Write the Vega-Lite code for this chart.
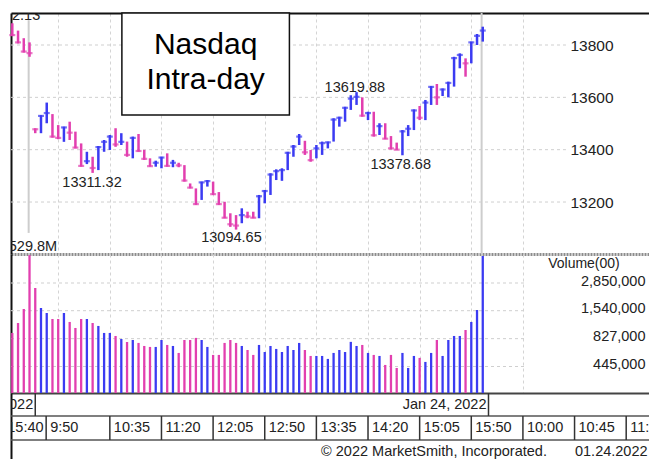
{
  "$schema": "https://vega.github.io/schema/vega-lite/v6.json",
  "padding": {"left": 9, "top": 12, "right": 0, "bottom": 0},
  "background": "white",
  "spacing": 0,
  "bounds": "flush",
  "config": {
    "view": {"stroke": null},
    "font": "Liberation Sans",
    "axis": {"labelFont": "Liberation Sans", "titleFont": "Liberation Sans"},
    "text": {"font": "Liberation Sans"}
  },
  "datasets": {
    "bars": [
      {"i":1,"h":13883,"l":13834,"c":13838,"v":939000,"d":"down"},
      {"i":2,"h":13855,"l":13806,"c":13810,"v":1172000,"d":"down"},
      {"i":3,"h":13826,"l":13771,"c":13775,"v":1600000,"d":"down"},
      {"i":4,"h":13810,"l":13755,"c":13768.92,"v":5298000,"d":"down"},
      {"i":5,"h":13482,"l":13463,"c":13478,"v":2551000,"d":"down"},
      {"i":6,"h":13532,"l":13463,"c":13529,"v":1636000,"d":"up"},
      {"i":7,"h":13580,"l":13501,"c":13540,"v":1464000,"d":"up"},
      {"i":8,"h":13536,"l":13446,"c":13450,"v":1281000,"d":"down"},
      {"i":9,"h":13494,"l":13440,"c":13445,"v":1281000,"d":"down"},
      {"i":10,"h":13488,"l":13430,"c":13485,"v":1464000,"d":"up"},
      {"i":11,"h":13507,"l":13437,"c":13465,"v":1199000,"d":"down"},
      {"i":12,"h":13469,"l":13405,"c":13408,"v":1049000,"d":"down"},
      {"i":13,"h":13424,"l":13335,"c":13338,"v":1281000,"d":"down"},
      {"i":14,"h":13392,"l":13345,"c":13356,"v":1281000,"d":"up"},
      {"i":15,"h":13373,"l":13311.32,"c":13330,"v":1172000,"d":"down"},
      {"i":16,"h":13414,"l":13322,"c":13410,"v":1097000,"d":"up"},
      {"i":17,"h":13437,"l":13392,"c":13430,"v":939000,"d":"up"},
      {"i":18,"h":13456,"l":13399,"c":13450,"v":939000,"d":"up"},
      {"i":19,"h":13482,"l":13411,"c":13420,"v":878000,"d":"down"},
      {"i":20,"h":13463,"l":13418,"c":13430,"v":821000,"d":"up"},
      {"i":21,"h":13431,"l":13373,"c":13380,"v":768000,"d":"down"},
      {"i":22,"h":13450,"l":13367,"c":13445,"v":803000,"d":"up"},
      {"i":23,"h":13460,"l":13392,"c":13395,"v":752000,"d":"down"},
      {"i":24,"h":13399,"l":13361,"c":13365,"v":703000,"d":"down"},
      {"i":25,"h":13367,"l":13335,"c":13337,"v":688000,"d":"down"},
      {"i":26,"h":13358,"l":13335,"c":13350,"v":688000,"d":"up"},
      {"i":27,"h":13373,"l":13329,"c":13370,"v":803000,"d":"up"},
      {"i":28,"h":13386,"l":13335,"c":13338,"v":719000,"d":"down"},
      {"i":29,"h":13361,"l":13333,"c":13350,"v":703000,"d":"up"},
      {"i":30,"h":13350,"l":13333,"c":13340,"v":602000,"d":"down"},
      {"i":31,"h":13341,"l":13278,"c":13282,"v":803000,"d":"down"},
      {"i":32,"h":13271,"l":13252,"c":13255,"v":803000,"d":"down"},
      {"i":33,"h":13252,"l":13189,"c":13192,"v":841000,"d":"down"},
      {"i":34,"h":13278,"l":13208,"c":13275,"v":803000,"d":"up"},
      {"i":35,"h":13284,"l":13259,"c":13280,"v":688000,"d":"up"},
      {"i":36,"h":13278,"l":13227,"c":13230,"v":576000,"d":"down"},
      {"i":37,"h":13238,"l":13189,"c":13192,"v":576000,"d":"down"},
      {"i":38,"h":13201,"l":13138,"c":13140,"v":752000,"d":"down"},
      {"i":39,"h":13157,"l":13105,"c":13115,"v":803000,"d":"down"},
      {"i":40,"h":13150,"l":13094.65,"c":13110,"v":752000,"d":"down"},
      {"i":41,"h":13176,"l":13119,"c":13150,"v":703000,"d":"up"},
      {"i":42,"h":13163,"l":13138,"c":13145,"v":643000,"d":"down"},
      {"i":43,"h":13163,"l":13138,"c":13140,"v":576000,"d":"down"},
      {"i":44,"h":13227,"l":13138,"c":13222,"v":719000,"d":"up"},
      {"i":45,"h":13246,"l":13195,"c":13242,"v":615000,"d":"up"},
      {"i":46,"h":13310,"l":13227,"c":13305,"v":703000,"d":"up"},
      {"i":47,"h":13325,"l":13284,"c":13318,"v":658000,"d":"up"},
      {"i":48,"h":13329,"l":13281,"c":13322,"v":615000,"d":"up"},
      {"i":49,"h":13392,"l":13322,"c":13388,"v":703000,"d":"up"},
      {"i":50,"h":13418,"l":13373,"c":13412,"v":643000,"d":"up"},
      {"i":51,"h":13460,"l":13418,"c":13450,"v":752000,"d":"up"},
      {"i":52,"h":13434,"l":13380,"c":13390,"v":643000,"d":"down"},
      {"i":53,"h":13399,"l":13354,"c":13360,"v":563000,"d":"down"},
      {"i":54,"h":13418,"l":13367,"c":13405,"v":563000,"d":"up"},
      {"i":55,"h":13431,"l":13380,"c":13425,"v":563000,"d":"up"},
      {"i":56,"h":13431,"l":13405,"c":13428,"v":527000,"d":"up"},
      {"i":57,"h":13520,"l":13431,"c":13515,"v":602000,"d":"up"},
      {"i":58,"h":13526,"l":13488,"c":13522,"v":643000,"d":"up"},
      {"i":59,"h":13564,"l":13507,"c":13560,"v":615000,"d":"up"},
      {"i":60,"h":13608,"l":13552,"c":13595,"v":770000,"d":"up"},
      {"i":61,"h":13619.88,"l":13571,"c":13602,"v":703000,"d":"up"},
      {"i":62,"h":13600,"l":13526,"c":13530,"v":719000,"d":"down"},
      {"i":63,"h":13545,"l":13513,"c":13540,"v":602000,"d":"up"},
      {"i":64,"h":13545,"l":13450,"c":13455,"v":576000,"d":"down"},
      {"i":65,"h":13501,"l":13456,"c":13490,"v":563000,"d":"up"},
      {"i":66,"h":13501,"l":13440,"c":13442,"v":461000,"d":"down"},
      {"i":67,"h":13452,"l":13401,"c":13405,"v":576000,"d":"down"},
      {"i":68,"h":13427,"l":13399,"c":13400,"v":431000,"d":"down"},
      {"i":69,"h":13475,"l":13378.68,"c":13470,"v":602000,"d":"up"},
      {"i":70,"h":13494,"l":13452,"c":13480,"v":431000,"d":"up"},
      {"i":71,"h":13554,"l":13475,"c":13550,"v":563000,"d":"up"},
      {"i":72,"h":13567,"l":13513,"c":13522,"v":539000,"d":"down"},
      {"i":73,"h":13590,"l":13513,"c":13580,"v":493000,"d":"up"},
      {"i":74,"h":13643,"l":13571,"c":13640,"v":602000,"d":"up"},
      {"i":75,"h":13651,"l":13571,"c":13600,"v":803000,"d":"down"},
      {"i":76,"h":13634,"l":13605,"c":13630,"v":563000,"d":"up"},
      {"i":77,"h":13660,"l":13600,"c":13655,"v":803000,"d":"up"},
      {"i":78,"h":13755,"l":13641,"c":13750,"v":878000,"d":"up"},
      {"i":79,"h":13768,"l":13711,"c":13762,"v":878000,"d":"up"},
      {"i":80,"h":13749,"l":13679,"c":13730,"v":1003000,"d":"down"},
      {"i":81,"h":13813,"l":13730,"c":13810,"v":1199000,"d":"up"},
      {"i":82,"h":13842,"l":13800,"c":13835,"v":1565000,"d":"up"},
      {"i":83,"h":13870,"l":13813,"c":13855.13,"v":5197000,"d":"up"}
    ],
    "pgrid": [{"p":13200},{"p":13400},{"p":13600},{"p":13800}],
    "vgrid": [{"v":445000},{"v":827000},{"v":1540000},{"v":2850000}],
    "vlines": [
      {"x":3.85,"y0":13082,"y1":13895},
      {"x":82.8,"y0":13001.4,"y1":13922.3}
    ],
    "box": [{"x0":20.1,"x1":49.3,"y0":13532.5,"y1":13922.3}],
    "titleText": [
      {"x":34.7,"y":13764.5,"t":"Nasdaq"},
      {"x":34.7,"y":13630.7,"t":"Intra-day"}
    ],
    "notes": [
      {"x":14.9,"y":13274,"t":"13311.32"},
      {"x":39.2,"y":13061,"t":"13094.65"},
      {"x":60.7,"y":13634.5,"t":"13619.88"},
      {"x":68.7,"y":13341.5,"t":"13378.68"},
      {"x":0.6,"y":13911,"t":"13882.13"},
      {"x":4.6,"y":13029,"t":"529.8M"}
    ],
    "rowLines": [{"r":1.955},{"r":0.864}],
    "seps": [
      {"x":5,"r0":1.955,"r1":3},{"x":84,"r0":1.955,"r1":3},
      {"x":6.9,"r0":0.864,"r1":1.955},{"x":18,"r0":0.864,"r1":1.955},{"x":27,"r0":0.864,"r1":1.955},
      {"x":36,"r0":0.864,"r1":1.955},{"x":45,"r0":0.864,"r1":1.955},{"x":54,"r0":0.864,"r1":1.955},
      {"x":63,"r0":0.864,"r1":1.955},{"x":72,"r0":0.864,"r1":1.955},{"x":81,"r0":0.864,"r1":1.955},
      {"x":90,"r0":0.864,"r1":1.955},{"x":99,"r0":0.864,"r1":1.955},{"x":108,"r0":0.864,"r1":1.955}
    ],
    "endLabels": [
      {"x":5,"r":2.455,"t":"Jan 21, 2022"},
      {"x":84,"r":2.455,"t":"Jan 24, 2022"},
      {"x":6.8,"r":1.41,"t":"15:40"}
    ],
    "times": [
      {"x":6.9,"r":1.41,"t":"9:50"},
      {"x":18,"r":1.41,"t":"10:35"},{"x":27,"r":1.41,"t":"11:20"},
      {"x":36,"r":1.41,"t":"12:05"},{"x":45,"r":1.41,"t":"12:50"},
      {"x":54,"r":1.41,"t":"13:35"},{"x":63,"r":1.41,"t":"14:20"},
      {"x":72,"r":1.41,"t":"15:05"},{"x":81,"r":1.41,"t":"15:50"},
      {"x":90,"r":1.41,"t":"10:00"},{"x":99,"r":1.41,"t":"10:45"},
      {"x":108,"r":1.41,"t":"11:30"}
    ],
    "footer": [
      {"x":74.5,"r":0.33,"t":"© 2022 MarketSmith, Incorporated."},
      {"x":105.4,"r":0.33,"t":"01.24.2022"}
    ]
  },
  "vconcat": [
    {
      "width": 639,
      "height": 241,
      "resolve": {"axis": {"x": "independent", "y": "independent"}},
      "layer": [
        {
          "data": {"name": "pgrid"},
          "mark": {"type": "rule", "color": "#cfcfcf", "strokeDash": [3, 3], "strokeWidth": 1},
          "encoding": {
            "y": {"field": "p", "type": "quantitative", "scale": {"domain": [13001.4, 13922.3], "nice": false, "zero": false},
                  "axis": {"orient": "left", "domain": true, "domainColor": "#111", "domainWidth": 2, "labels": false, "ticks": false, "grid": false, "title": null}},
            "x": {"datum": 0.773, "type": "quantitative", "scale": {"domain": [0.773, 112.15], "nice": false, "zero": false},
                  "axis": {"orient": "top", "domain": true, "domainColor": "#111", "domainWidth": 2, "labels": false, "ticks": false, "grid": false, "title": null}},
            "x2": {"datum": 97.5}
          }
        },
        {
          "data": {"name": "vlines"},
          "mark": {"type": "rule", "color": "#cdcdcd", "strokeWidth": 2},
          "encoding": {
            "x": {"field": "x", "type": "quantitative", "axis": null},
            "y": {"field": "y0", "type": "quantitative", "axis": null},
            "y2": {"field": "y1"}
          }
        },
        {
          "data": {"name": "bars"},
          "mark": {"type": "rule", "strokeWidth": 2.5},
          "encoding": {
            "x": {"field": "i", "type": "quantitative",
                  "axis": {"orient": "bottom", "values": [9,18,27,36,45,54,63,72,81,90], "grid": true, "gridColor": "#d4d4d4", "gridDash": [3, 3], "gridWidth": 1,
                           "domain": true, "domainColor": "#8c8c8c", "domainDash": [2, 1], "domainWidth": 3, "labels": false, "ticks": false, "title": null}},
            "y": {"field": "l", "type": "quantitative",
                  "axis": {"orient": "right", "values": [13200, 13400, 13600, 13800], "format": "d", "labelAlign": "left", "labelBaseline": "middle", "labelPadding": -80,
                           "labelFontSize": 15.5, "labelColor": "#222", "domain": false, "ticks": false, "grid": false, "title": null}},
            "y2": {"field": "h"},
            "color": {"field": "d", "type": "nominal", "scale": {"domain": ["up", "down"], "range": ["#3b3bf2", "#e23faf"]}, "legend": null}
          }
        },
        {
          "data": {"name": "bars"},
          "mark": {"type": "tick", "orient": "horizontal", "size": 6, "thickness": 2.2},
          "encoding": {
            "x": {"field": "i", "type": "quantitative", "axis": null},
            "y": {"field": "c", "type": "quantitative", "axis": null},
            "color": {"field": "d", "type": "nominal", "scale": {"domain": ["up", "down"], "range": ["#3b3bf2", "#e23faf"]}, "legend": null}
          }
        },
        {
          "data": {"name": "box"},
          "mark": {"type": "rect", "fill": "white", "stroke": "#111", "strokeWidth": 1.5},
          "encoding": {
            "x": {"field": "x0", "type": "quantitative", "axis": null},
            "x2": {"field": "x1"},
            "y": {"field": "y0", "type": "quantitative", "axis": null},
            "y2": {"field": "y1"}
          }
        },
        {
          "data": {"name": "titleText"},
          "mark": {"type": "text", "fontSize": 30, "align": "center", "baseline": "alphabetic", "color": "#000"},
          "encoding": {
            "x": {"field": "x", "type": "quantitative", "axis": null},
            "y": {"field": "y", "type": "quantitative", "axis": null},
            "text": {"field": "t"}
          }
        },
        {
          "data": {"name": "notes"},
          "mark": {"type": "text", "fontSize": 14.5, "align": "center", "baseline": "middle", "color": "#222", "clip": true},
          "encoding": {
            "x": {"field": "x", "type": "quantitative", "axis": null},
            "y": {"field": "y", "type": "quantitative", "axis": null},
            "text": {"field": "t"}
          }
        }
      ]
    },
    {
      "width": 639,
      "height": 139,
      "resolve": {"axis": {"x": "independent", "y": "independent"}},
      "layer": [
        {
          "data": {"name": "vgrid"},
          "mark": {"type": "rule", "color": "#cfcfcf", "strokeDash": [3, 3], "strokeWidth": 1},
          "encoding": {
            "y": {"field": "v", "type": "quantitative", "scale": {"type": "log", "domain": [247000, 5433000], "nice": false, "zero": false},
                  "axis": {"orient": "left", "domain": true, "domainColor": "#111", "domainWidth": 2, "labels": false, "ticks": false, "grid": false, "title": null}},
            "x": {"datum": 0.773, "type": "quantitative", "scale": {"domain": [0.773, 112.15], "nice": false, "zero": false}, "axis": null},
            "x2": {"datum": 90.2}
          }
        },
        {
          "data": {"name": "bars"},
          "mark": {"type": "rule", "strokeWidth": 2.3},
          "encoding": {
            "x": {"field": "i", "type": "quantitative",
                  "axis": {"orient": "bottom", "values": [9,18,27,36,45,54,63,72,81,90], "grid": true, "gridColor": "#d4d4d4", "gridDash": [3, 3], "gridWidth": 1,
                           "domain": true, "domainColor": "#444", "domainWidth": 2, "labels": false, "ticks": false, "title": null}},
            "y": {"field": "v", "type": "quantitative",
                  "axis": {"orient": "right", "values": [445000, 827000, 1540000, 2850000], "format": ",d", "labelAlign": "right", "labelBaseline": "middle", "labelPadding": -5, "labelOffset": -2,
                           "labelFontSize": 14.5, "labelColor": "#222", "domain": false, "ticks": false, "grid": false, "title": null}},
            "y2": {"datum": 247000},
            "color": {"field": "d", "type": "nominal", "scale": {"domain": ["up", "down"], "range": ["#3b3bf2", "#e23faf"]}, "legend": null}
          }
        },
        {
          "data": {"values": [{"x": 94.4, "v": 4350000, "t": "Volume(00)"}]},
          "mark": {"type": "text", "fontSize": 14, "align": "left", "baseline": "middle", "color": "#222"},
          "encoding": {
            "x": {"field": "x", "type": "quantitative", "axis": null},
            "y": {"field": "v", "type": "quantitative", "axis": null},
            "text": {"field": "t"}
          }
        }
      ]
    },
    {
      "width": 639,
      "height": 66,
      "resolve": {"axis": {"x": "independent", "y": "independent"}},
      "layer": [
        {
          "data": {"name": "rowLines"},
          "mark": {"type": "rule", "color": "#555", "strokeWidth": 1.5},
          "encoding": {
            "y": {"field": "r", "type": "quantitative", "scale": {"domain": [0, 3], "nice": false, "zero": false},
                  "axis": {"orient": "left", "domain": true, "domainColor": "#111", "domainWidth": 2, "labels": false, "ticks": false, "grid": false, "title": null}},
            "x": {"datum": 0.773, "type": "quantitative", "scale": {"domain": [0.773, 112.15], "nice": false, "zero": false}, "axis": null},
            "x2": {"datum": 112.15}
          }
        },
        {
          "data": {"name": "seps"},
          "mark": {"type": "rule", "color": "#333", "strokeWidth": 1.5},
          "encoding": {
            "x": {"field": "x", "type": "quantitative", "axis": null},
            "y": {"field": "r0", "type": "quantitative", "axis": null},
            "y2": {"field": "r1"}
          }
        },
        {
          "data": {"name": "endLabels"},
          "mark": {"type": "text", "fontSize": 14.5, "align": "right", "baseline": "middle", "dx": -2, "color": "#222", "clip": true},
          "encoding": {
            "x": {"field": "x", "type": "quantitative", "axis": null},
            "y": {"field": "r", "type": "quantitative", "axis": null},
            "text": {"field": "t"}
          }
        },
        {
          "data": {"name": "times"},
          "mark": {"type": "text", "fontSize": 14.5, "align": "left", "baseline": "middle", "dx": 4, "color": "#222", "clip": true},
          "encoding": {
            "x": {"field": "x", "type": "quantitative", "axis": null},
            "y": {"field": "r", "type": "quantitative", "axis": null},
            "text": {"field": "t"}
          }
        },
        {
          "data": {"name": "footer"},
          "mark": {"type": "text", "fontSize": 14.5, "align": "center", "baseline": "middle", "color": "#222", "clip": true},
          "encoding": {
            "x": {"field": "x", "type": "quantitative", "axis": null},
            "y": {"field": "r", "type": "quantitative", "axis": null},
            "text": {"field": "t"}
          }
        }
      ]
    }
  ]
}
